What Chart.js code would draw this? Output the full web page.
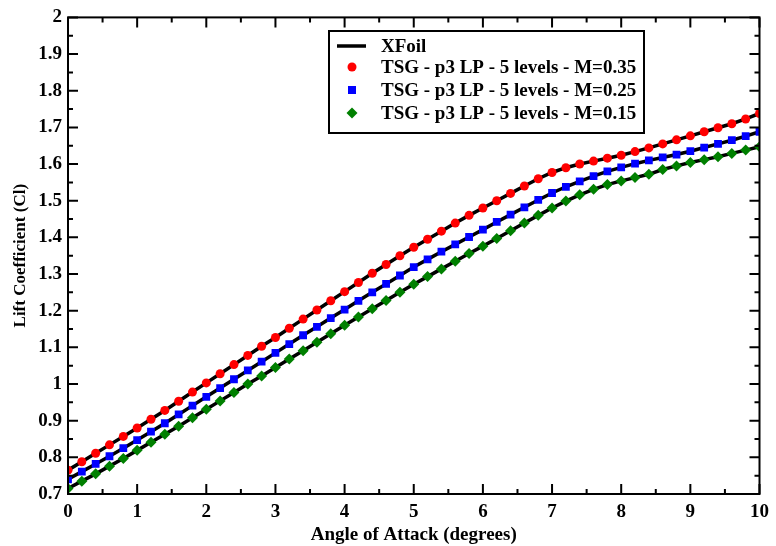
<!DOCTYPE html>
<html>
<head>
<meta charset="utf-8">
<script src="https://cdn.jsdelivr.net/npm/chart.js@4.4.0/dist/chart.umd.min.js"></script>
<style>
html,body{margin:0;padding:0;background:#fff;}
#wrap{width:776px;height:546px;}
</style>
</head>
<body>
<div id="wrap"><canvas id="myChart" width="776" height="546"></canvas></div>
<script>
// angle of attack (degrees)
const alpha = [0,0.2,0.4,0.6,0.8,1,1.2,1.4,1.6,1.8,2,2.2,2.4,2.6,2.8,3,3.2,3.4,3.6,3.8,4,4.2,4.4,4.6,4.8,5,
	5.2,5.4,5.6,5.8,6,6.2,6.4,6.6,6.8,7,7.2,7.4,7.6,7.8,8,8.2,8.4,8.6,8.8,9,9.2,9.4,9.6,9.8,10];

// lift coefficient, M=0.35
const clM035 = [0.765,0.788,0.811,0.834,0.857,0.880,0.904,0.928,0.953,0.978,1.003,1.028,1.053,1.078,1.103,1.127,
	1.152,1.177,1.202,1.227,1.252,1.277,1.302,1.326,1.350,1.373,1.395,1.417,1.439,1.460,1.480,1.500,1.520,1.540,
	1.560,1.577,1.590,1.600,1.608,1.616,1.624,1.634,1.644,1.655,1.666,1.677,1.688,1.699,1.710,1.723,1.738];
// M=0.25
const clM025 = [0.740,0.761,0.782,0.803,0.825,0.847,0.870,0.893,0.917,0.941,0.965,0.989,1.013,1.037,1.061,1.085,
	1.109,1.133,1.156,1.180,1.203,1.227,1.250,1.273,1.296,1.319,1.340,1.361,1.381,1.401,1.421,1.442,1.462,1.482,
	1.502,1.521,1.538,1.553,1.567,1.580,1.591,1.601,1.610,1.618,1.626,1.635,1.645,1.655,1.665,1.676,1.688];
// M=0.15
const clM015 = [0.715,0.735,0.755,0.776,0.797,0.819,0.841,0.863,0.885,0.908,0.931,0.954,0.977,1.000,1.022,1.045,
	1.068,1.091,1.114,1.137,1.160,1.183,1.205,1.228,1.250,1.272,1.293,1.314,1.335,1.356,1.376,1.397,1.418,1.439,
	1.460,1.480,1.499,1.516,1.531,1.544,1.554,1.563,1.572,1.585,1.595,1.604,1.612,1.620,1.629,1.638,1.647];

const seriesLabels = ['XFoil', 'TSG - p3 LP - 5 levels - M=0.35', 'TSG - p3 LP - 5 levels - M=0.25', 'TSG - p3 LP - 5 levels - M=0.15'];
const markerColors = ['#ff0000', '#0000ff', '#008000'];
const markerStyles = ['circle', 'rect', 'rectRot'];
const markerSizes = [4.5, 5.5, 5.5];

const font = 'Liberation Serif';

function pts(ys) {
	return alpha.map((a, i) => ({x: a, y: ys[i]}));
}

let datasets = [];
[clM035, clM025, clM015].forEach(function(ys, j) {
	// xfoil curve (black line under the markers)
	datasets.push({
		label: j === 0 ? seriesLabels[0] : '',
		data: pts(ys),
		borderColor: '#000',
		borderWidth: 3.5,
		pointRadius: 0,
		fill: false,
		tension: 0,
		order: 2
	});
	datasets.push({
		label: seriesLabels[j + 1],
		data: pts(ys),
		showLine: false,
		pointStyle: markerStyles[j],
		pointRadius: markerSizes[j],
		pointBackgroundColor: markerColors[j],
		pointBorderColor: markerColors[j],
		pointBorderWidth: 0,
		order: 1
	});
});

// frame, inward ticks on all sides, and the legend box
const frameTicks = {
	id: 'frameTicks',
	afterDraw(chart) {
		const ctx = chart.ctx, a = chart.chartArea;
		const xs = chart.scales.x, ys = chart.scales.y;
		ctx.save();
		ctx.strokeStyle = '#000';
		ctx.lineWidth = 2;
		ctx.beginPath();
		xs.ticks.forEach(function(t, i) {
			let px = xs.getPixelForValue(t.value);
			ctx.moveTo(px, a.bottom); ctx.lineTo(px, a.bottom - 10);
			ctx.moveTo(px, a.top); ctx.lineTo(px, a.top + 10);
			if (i < xs.ticks.length - 1) {
				let pm = xs.getPixelForValue((t.value + xs.ticks[i + 1].value) / 2);
				ctx.moveTo(pm, a.bottom); ctx.lineTo(pm, a.bottom - 5);
				ctx.moveTo(pm, a.top); ctx.lineTo(pm, a.top + 5);
			}
		});
		ys.ticks.forEach(function(t, i) {
			let py = ys.getPixelForValue(t.value);
			ctx.moveTo(a.left, py); ctx.lineTo(a.left + 10, py);
			ctx.moveTo(a.right, py); ctx.lineTo(a.right - 10, py);
			if (i < ys.ticks.length - 1) {
				let pm = ys.getPixelForValue((t.value + ys.ticks[i + 1].value) / 2);
				ctx.moveTo(a.left, pm); ctx.lineTo(a.left + 5, pm);
				ctx.moveTo(a.right, pm); ctx.lineTo(a.right - 5, pm);
			}
		});
		ctx.stroke();
		ctx.strokeRect(a.left, a.top, a.right - a.left, a.bottom - a.top);

		// legend
		const bx = 329, by = 31, bw = 315, bh = 102;
		ctx.fillStyle = '#fff';
		ctx.fillRect(bx, by, bw, bh);
		ctx.lineWidth = 2;
		ctx.strokeRect(bx, by, bw, bh);
		const rows = [46, 67, 90, 113];
		ctx.font = 'bold 19px "' + font + '"';
		ctx.textBaseline = 'middle';
		ctx.textAlign = 'left';
		rows.forEach(function(ry, k) {
			if (k === 0) {
				ctx.strokeStyle = '#000';
				ctx.lineWidth = 3.5;
				ctx.beginPath();
				ctx.moveTo(337, ry); ctx.lineTo(366, ry);
				ctx.stroke();
			} else {
				ctx.fillStyle = markerColors[k - 1];
				ctx.beginPath();
				if (k === 1) ctx.arc(352, ry, 4.5, 0, Math.PI * 2);
				if (k === 2) ctx.rect(348, ry - 4, 8, 8);
				if (k === 3) { ctx.moveTo(352, ry - 5.5); ctx.lineTo(357.5, ry); ctx.lineTo(352, ry + 5.5); ctx.lineTo(346.5, ry); ctx.closePath(); }
				ctx.fill();
			}
			ctx.fillStyle = '#000';
			ctx.fillText(seriesLabels[k], 381, ry + 1);
		});
		ctx.restore();
	}
};

const ctx = document.getElementById('myChart');
const chart = new Chart(ctx, {
	type: 'line',
	data: { datasets: datasets },
	plugins: [frameTicks],
	options: {
		responsive: false,
		animation: false,
		layout: { padding: { top: 15, right: 11, left: 0, bottom: 0 } },
		plugins: { legend: { display: false }, tooltip: { enabled: false } },
		scales: {
			x: {
				type: 'linear',
				min: 0, max: 10,
				afterFit: function(s) { s.height = 52; },
				grid: { display: false, drawTicks: false },
				border: { display: false },
				ticks: { stepSize: 1, padding: 7, color: '#000', font: { family: font, weight: 'bold', size: 19 } },
				title: { display: true, text: 'Angle of Attack (degrees)', color: '#000', padding: { top: 0, bottom: 0 },
					font: { family: font, weight: 'bold', size: 19 } }
			},
			y: {
				type: 'linear',
				min: 0.7, max: 2,
				afterFit: function(s) { s.width = 68; },
				grid: { display: false, drawTicks: false },
				border: { display: false },
				ticks: { stepSize: 0.1, padding: 6, color: '#000', font: { family: font, weight: 'bold', size: 19 },
					callback: function(v) { return String(+v.toFixed(2)); } },
				title: { display: true, text: 'Lift Coefficient (Cl)', color: '#000', padding: { top: 10, bottom: 0 },
					font: { family: font, weight: 'bold', size: 17 } }
			}
		}
	}
});
</script>
</body>
</html>
